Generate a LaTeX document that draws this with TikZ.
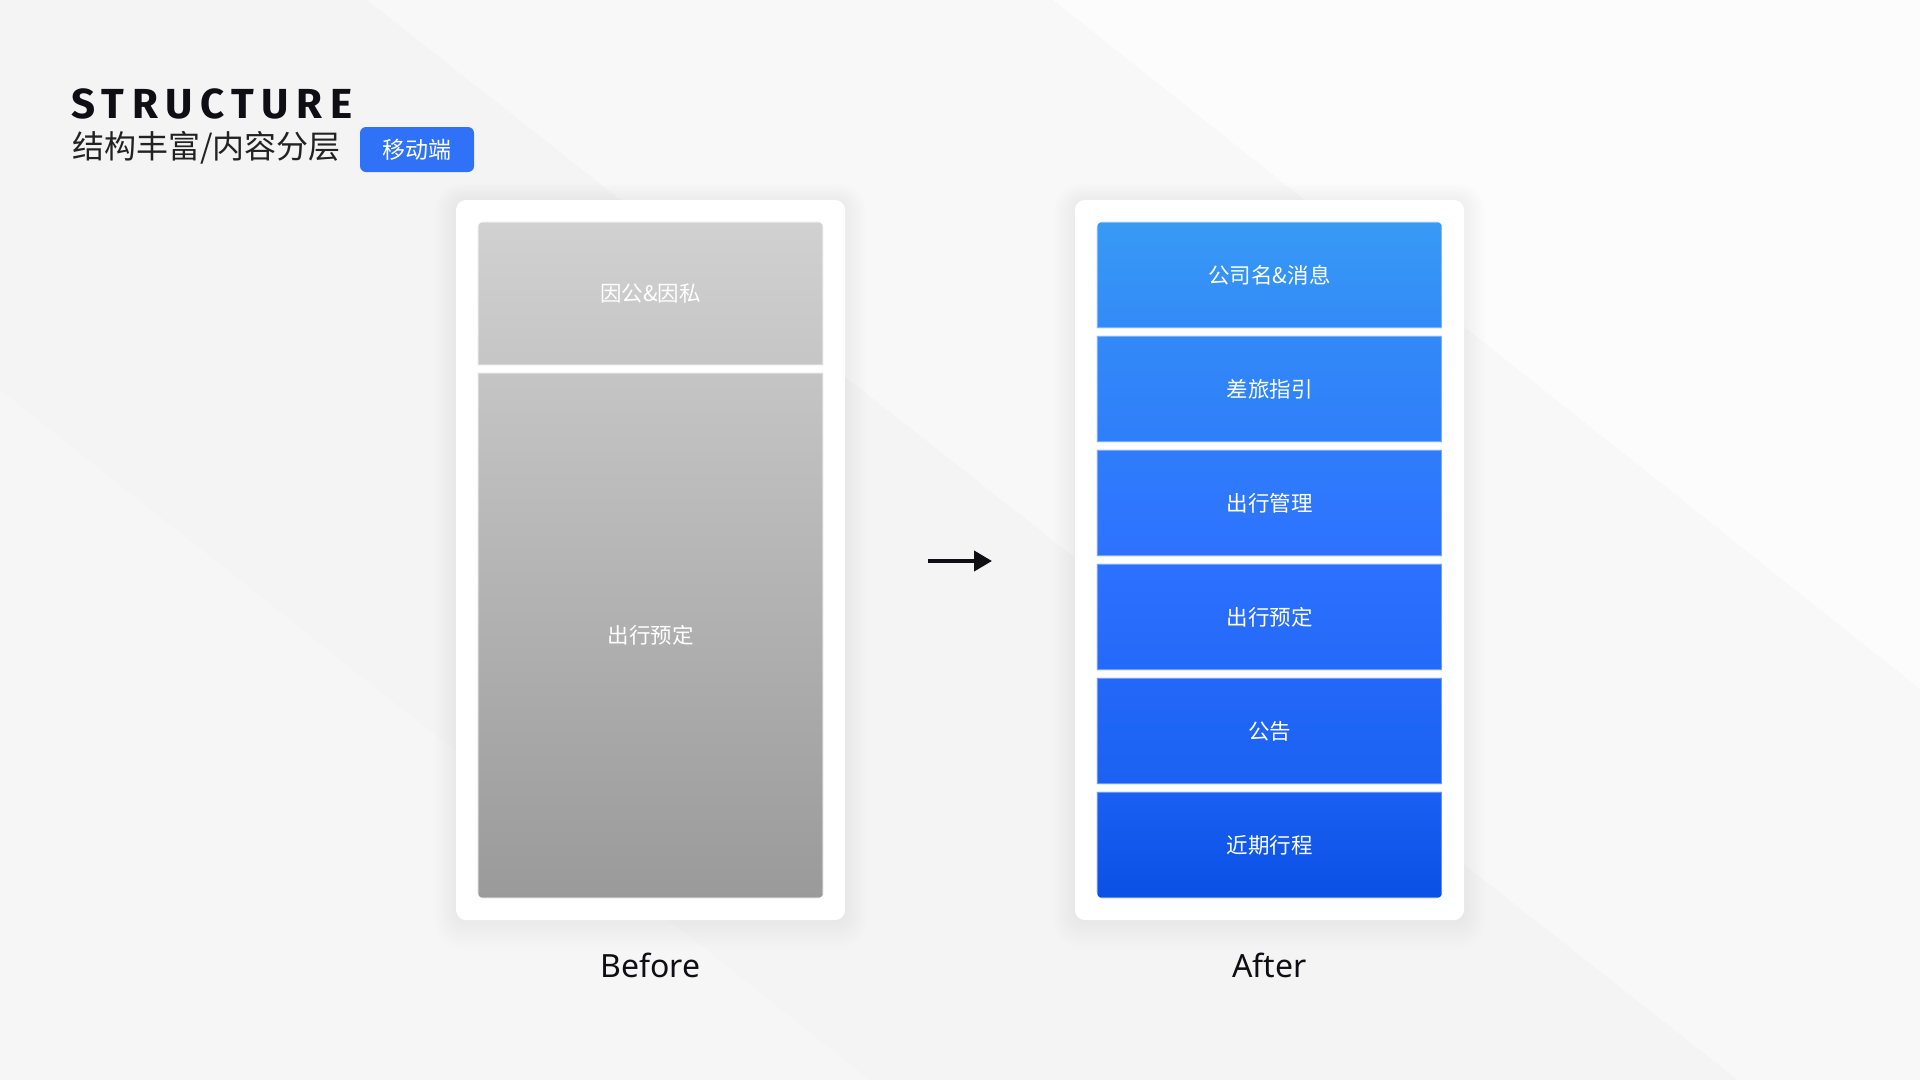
\documentclass[tikz,border=0pt]{standalone}
\usepackage{fontspec}
\setmainfont{Noto Sans}
\newfontfamily\cjk{Noto Sans CJK SC}
\newfontfamily\headfont[LetterSpace=18]{Fira Sans}
\usetikzlibrary{arrows.meta}

\definecolor{bgbase}{HTML}{F4F4F4}
\definecolor{bgmid}{HTML}{F8F8F8}
\definecolor{bglight}{HTML}{FCFCFC}
\definecolor{ink}{HTML}{0E0E14}
\definecolor{subink}{HTML}{222222}
\definecolor{badge}{HTML}{2F72F8}
\definecolor{grayTop}{HTML}{D1D1D1}
\definecolor{grayBot}{HTML}{9A9A9A}
\definecolor{blueTop}{HTML}{389AF5}
\definecolor{blueUp}{HTML}{3289F7}
\definecolor{blueMid}{HTML}{2C71FF}
\definecolor{blueLow}{HTML}{1B61F2}
\definecolor{blueBot}{HTML}{0A50E6}

% column gradients (25bp = bottom of the shaded path, 75bp = top)
\pgfdeclareverticalshading{graycol}{100bp}{color(0bp)=(grayBot); color(25bp)=(grayBot); color(75bp)=(grayTop); color(100bp)=(grayTop)}
\pgfdeclareverticalshading{bluecol}{100bp}{color(0bp)=(blueBot); color(25bp)=(blueBot); color(33.7bp)=(blueLow); color(50bp)=(blueMid); color(66.5bp)=(blueUp); color(75bp)=(blueTop); color(100bp)=(blueTop)}

\tikzset{
  card/.style={fill=white, rounded corners=10},
  slot/.style={minimum width=345, minimum height=106, inner sep=0, font=\cjk\fontsize{21.5}{26}\selectfont, text=white},
  bigslot/.style={slot, minimum height=525},
  topslot/.style={slot, minimum height=143},
  rim/.style={draw=white, draw opacity=0.35, line width=1.2},
  caption/.style={font=\fontsize{32}{38}\selectfont, text=ink, inner sep=0, anchor=base},
  flow/.style={line width=4, -{Triangle[length=18, width=20]}, draw=ink}
}

\begin{document}
\begin{tikzpicture}[x=1pt, y=-1pt]
\useasboundingbox (0,0) rectangle (1920,1080);

% backdrop with soft diagonal bands
\fill[bgbase] (0,0) rectangle (1920,1080);
\fill[bgmid] (367,0) -- (1053,0) -- (1920,689) -- (1920,1080) -- (1738,1080) -- cycle;
\fill[bglight] (1053,0) -- (1920,0) -- (1920,689) -- cycle;
\fill[bgmid, opacity=0.6] (0,390) -- (0,1080) -- (870,1080) -- cycle;

% heading
\node[anchor=base west, inner sep=0, text=ink, font=\headfont\bfseries\fontsize{42}{50}\selectfont] (title) at (71,118) {STRUCTURE};
\node[anchor=base west, inner sep=0, text=subink, font=\cjk\fontsize{32}{36}\selectfont] (subtitle) at (72,158) {结构丰富/内容分层};
\node[fill=badge, rounded corners=6, minimum width=114, minimum height=45, inner sep=0, text=white, font=\cjk\fontsize{23}{28}\selectfont] (tag) at (417,149.5) {移动端};

% card shadows
\foreach \c in {456,1075}{
  \foreach \i in {1,...,12}{
    \fill[black, opacity=0.0045, rounded corners=10+\i*1.5] (\c-\i*1.8,200-\i*1.4) rectangle (\c+389+\i*1.8,920+\i*2.4);
  }
}

% cards
\node[card, minimum width=389, minimum height=720, inner sep=0] (before) at (650.5,560) {};
\node[card, minimum width=389, minimum height=720, inner sep=0] (after) at (1269.5,560) {};

% before: two layers
\node[topslot] (g1) at (650.5,293.5) {};
\node[bigslot] (g2) at (650.5,635.5) {};
\begin{scope}
  \clip[rounded corners=6] (g1.north west) rectangle (g2.south east);
  \clip (g1.north west) rectangle (g1.south east) (g2.north west) rectangle (g2.south east);
  \shade[shading=graycol] (g1.north west) rectangle (g2.south east);
\end{scope}
\begin{scope}
  \clip[rounded corners=6] (g1.north west) rectangle (g2.south east);
  \draw[rim] ([shift={(0.6,0.6)}]g1.north west) rectangle ([shift={(-0.6,-0.6)}]g1.south east);
  \draw[rim] ([shift={(0.6,0.6)}]g2.north west) rectangle ([shift={(-0.6,-0.6)}]g2.south east);
\end{scope}
\node[slot, minimum height=143] at (g1) {因公\&因私};
\node[slot, minimum height=525] at (g2) {出行预定};

% after: six layers
\foreach \k in {1,...,6}{
  \node[slot] (b\k) at (1269.5,{275+(\k-1)*114}) {};
}
\begin{scope}
  \clip[rounded corners=6] (b1.north west) rectangle (b6.south east);
  \clip (b1.north west) rectangle (b1.south east) (b2.north west) rectangle (b2.south east)
        (b3.north west) rectangle (b3.south east) (b4.north west) rectangle (b4.south east)
        (b5.north west) rectangle (b5.south east) (b6.north west) rectangle (b6.south east);
  \shade[shading=bluecol] (b1.north west) rectangle (b6.south east);
\end{scope}
\begin{scope}
  \clip[rounded corners=6] (b1.north west) rectangle (b6.south east);
  \foreach \k in {1,...,6}{
    \draw[rim] ([shift={(0.6,0.6)}]b\k.north west) rectangle ([shift={(-0.6,-0.6)}]b\k.south east);
  }
\end{scope}
\foreach \k/\lbl in {1/公司名\&消息, 2/差旅指引, 3/出行管理, 4/出行预定, 5/公告, 6/近期行程}{
  \node[slot] at (b\k) {\lbl};
}

% transition arrow
\coordinate (arrS) at (928,561);
\coordinate (arrE) at (992,561);
\draw[flow] (arrS) -- (arrE);

% captions
\node[caption] (capB) at (650.5,977) {Before};
\node[caption] (capA) at (1269.5,977) {After};
\end{tikzpicture}
\end{document}
